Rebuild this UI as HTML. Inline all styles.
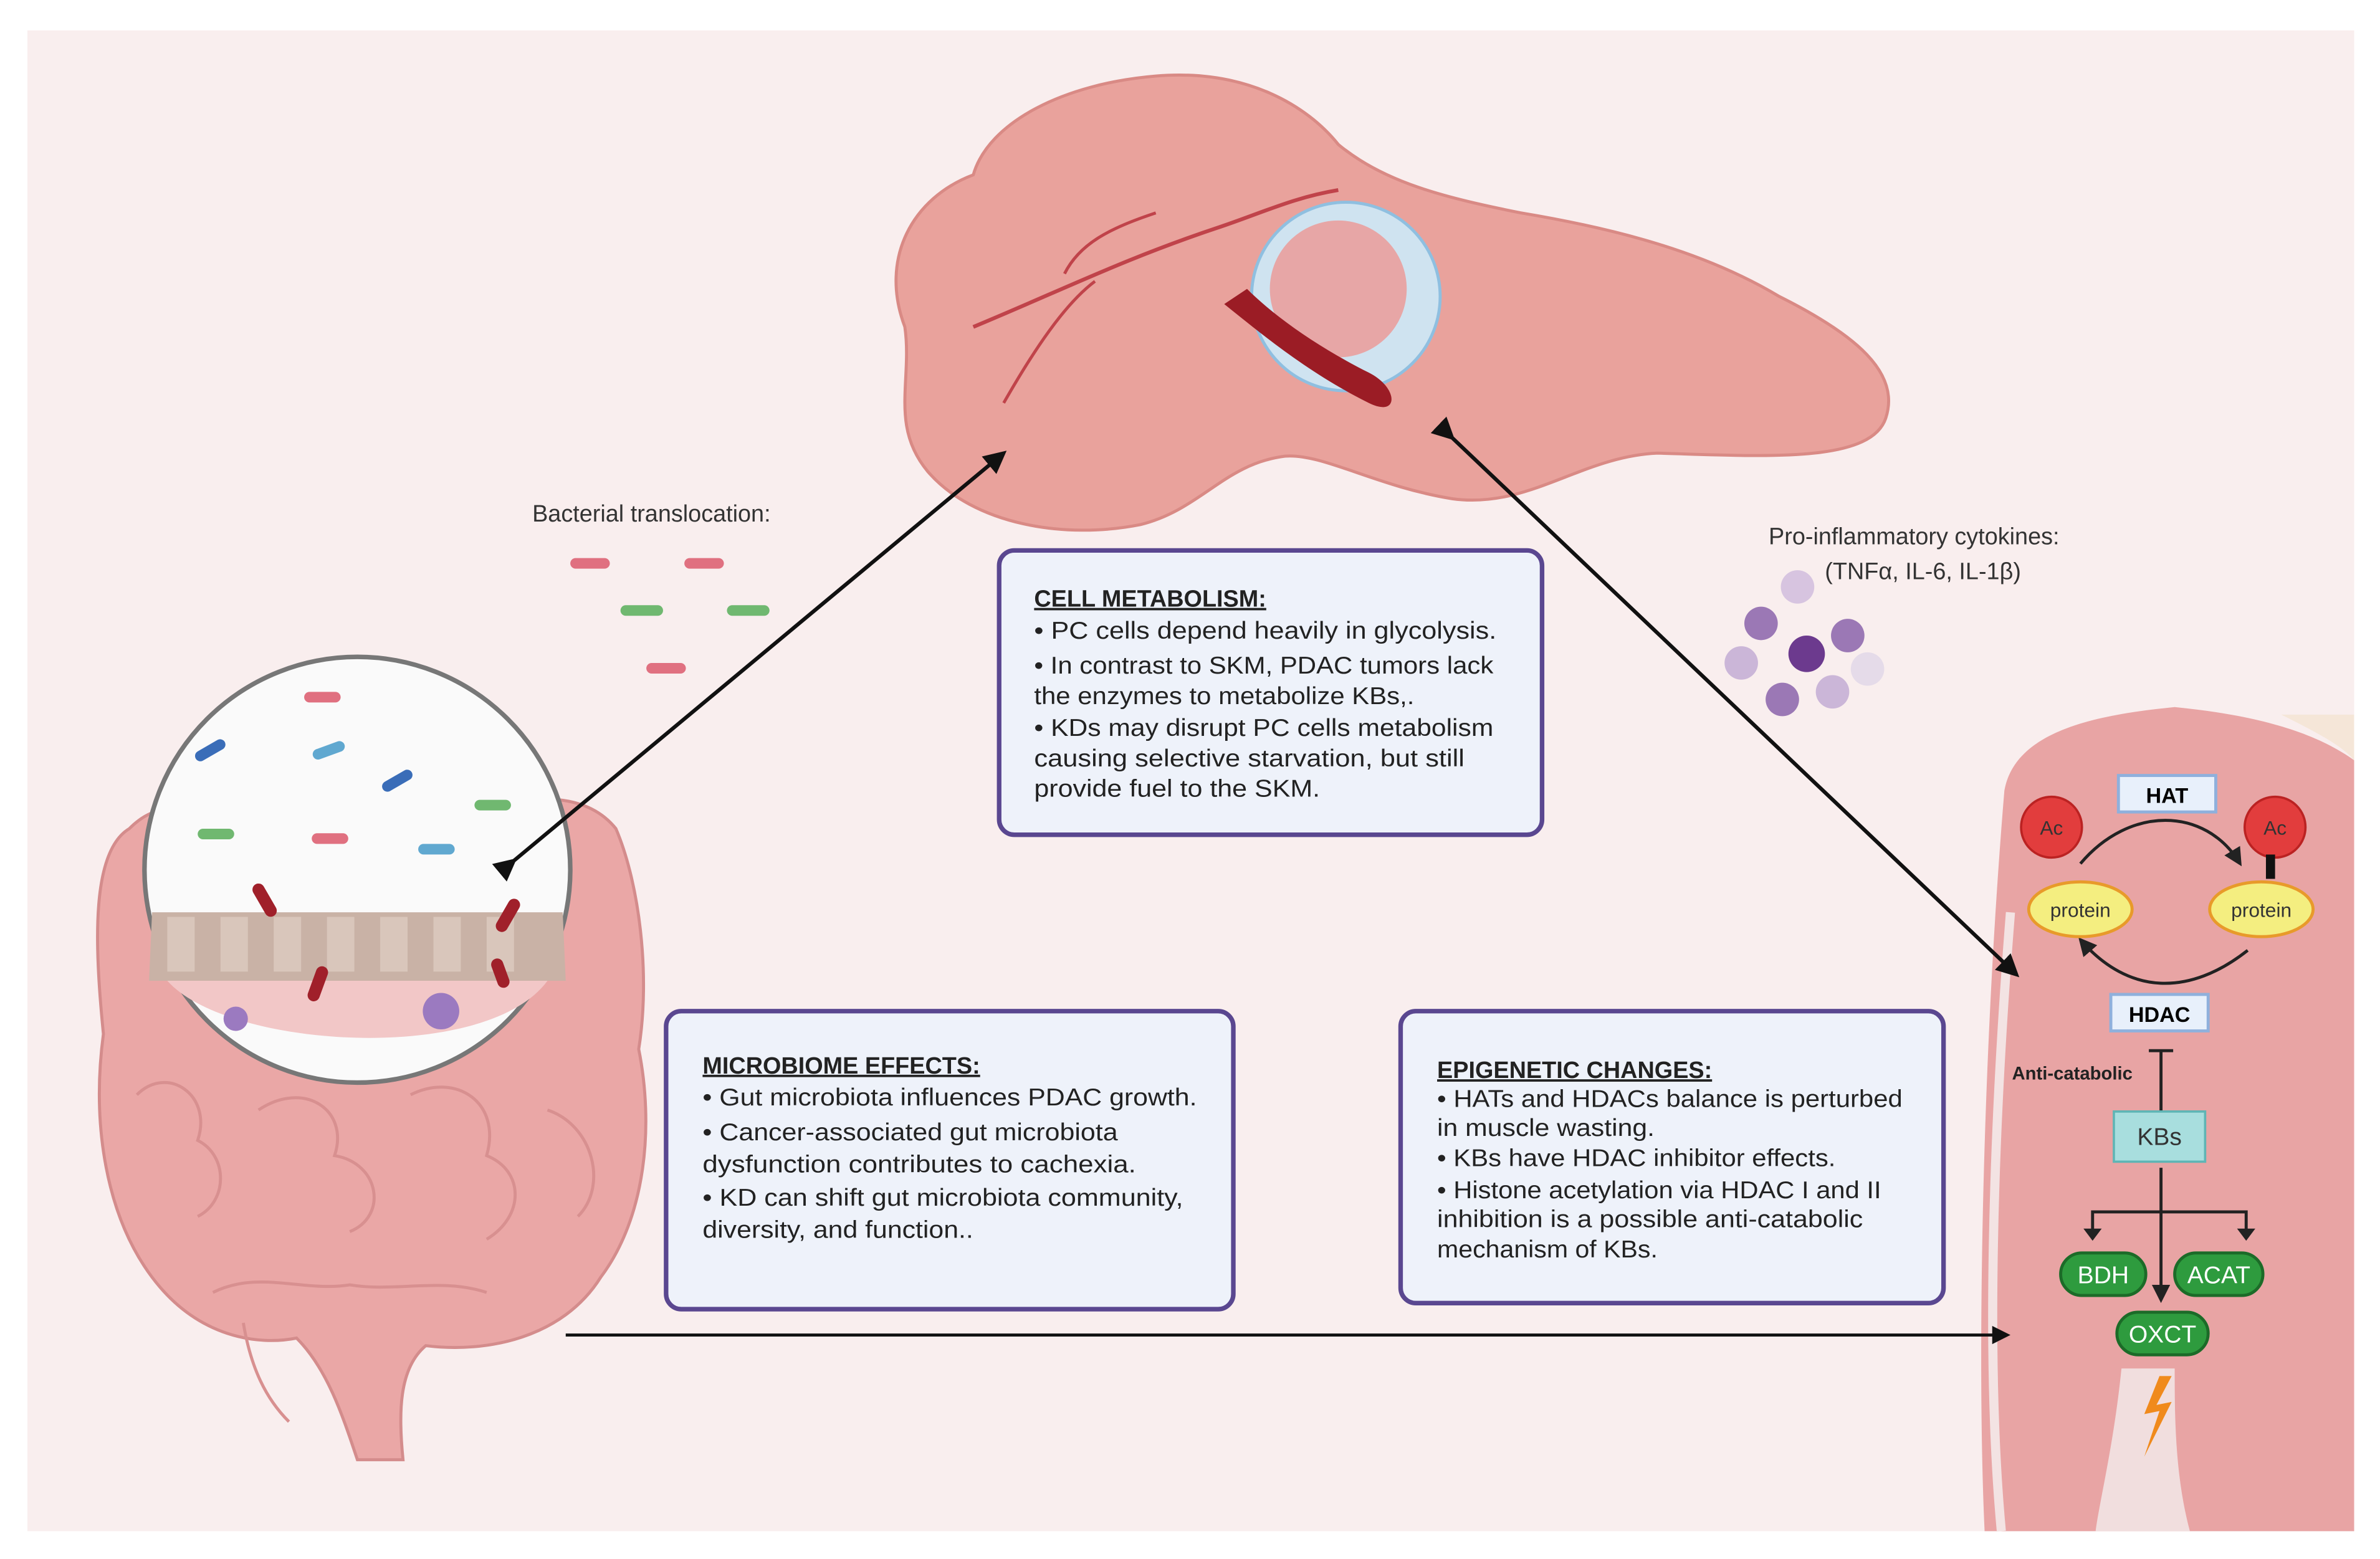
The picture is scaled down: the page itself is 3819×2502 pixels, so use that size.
<!DOCTYPE html>
<html><head><meta charset="utf-8"><style>
html,body{margin:0;padding:0;background:#fff;}
svg{display:block;}
text{font-family:"Liberation Sans",sans-serif;}
</style></head><body>
<svg width="3819" height="2502" viewBox="0 0 1565 1025.3" xmlns="http://www.w3.org/2000/svg">
<defs>
<marker id="ah" markerWidth="6" markerHeight="6" refX="5" refY="3" orient="auto" markerUnits="strokeWidth"><path d="M0,0 L6,3 L0,6 z" fill="#111"/></marker>
<marker id="ah2" markerWidth="6" markerHeight="6" refX="5" refY="3" orient="auto" markerUnits="strokeWidth"><path d="M0,0 L6,3 L0,6 z" fill="#222"/></marker>
</defs>
<rect x="18" y="20" width="1530" height="987" fill="#f9eeee"/>

<!-- pancreas -->
<path d="M595,215 C578,170 600,130 640,115 C650,80 700,55 760,50 C820,45 860,70 880,95 C910,120 950,130 1000,140 C1060,150 1120,165 1170,195 C1220,220 1250,245 1240,275 C1230,305 1160,300 1090,298 C1040,300 1005,335 955,328 C905,320 870,298 845,300 C805,305 790,335 750,345 C700,355 640,345 610,310 C585,280 600,250 595,215 Z" fill="#e9a29c" stroke="#d98a85" stroke-width="2"/>
<path d="M640,215 C700,190 740,170 800,150 C830,140 850,130 880,125" stroke="#c0434a" stroke-width="2.5" fill="none"/>
<path d="M660,265 C680,230 700,200 720,185 M700,180 C710,160 730,150 760,140" stroke="#c0434a" stroke-width="2" fill="none"/>
<circle cx="885" cy="195" r="62" fill="#cfe3f0" stroke="#8fbfe0" stroke-width="2"/>
<circle cx="880" cy="190" r="45" fill="#e7a6a6"/>
<path d="M805,200 C830,220 860,245 900,265 C920,275 920,255 900,245 C870,230 840,210 820,190 Z" fill="#9b1c25"/>

<!-- bacteria label -->
<text x="350" y="343" font-size="15.5" fill="#333">Bacterial translocation:</text>
<rect x="375" y="367" width="26" height="7" rx="3.5" fill="#e07080"/>
<rect x="450" y="367" width="26" height="7" rx="3.5" fill="#e07080"/>
<rect x="408" y="398" width="28" height="7" rx="3.5" fill="#70b870"/>
<rect x="478" y="398" width="28" height="7" rx="3.5" fill="#70b870"/>
<rect x="425" y="436" width="26" height="7" rx="3.5" fill="#e07080"/>

<!-- intestines -->
<path d="M85,545 C60,560 62,620 68,680 C60,740 70,800 100,840 C130,880 170,885 195,880 C215,900 225,930 235,960 L265,960 C262,930 262,900 280,885 C320,890 370,880 395,840 C425,800 430,740 420,690 C428,640 420,580 405,545 C385,520 350,525 330,528 L120,530 C100,532 92,538 85,545 Z" fill="#eaa7a6" stroke="#d48c8c" stroke-width="2"/>
<g fill="none" stroke="#d89090" stroke-width="2">
<path d="M90,720 C110,700 140,720 130,750 C150,760 150,790 130,800"/>
<path d="M170,730 C200,710 230,730 220,760 C250,765 255,800 230,810"/>
<path d="M270,720 C300,705 330,725 320,760 C345,770 345,800 320,815"/>
<path d="M360,730 C390,740 400,780 380,800"/>
<path d="M140,850 C170,835 200,850 230,845 C260,850 290,840 320,850"/>
<path d="M160,870 C165,900 175,920 190,935"/>
</g>
<circle cx="235" cy="572" r="140" fill="#fafafa" stroke="#777" stroke-width="3"/>
<path d="M100,600 L370,600 L372,645 L98,645 Z" fill="#c9b2a6"/>
<g fill="#d9c6bb"><rect x="110" y="603" width="18" height="36"/><rect x="145" y="603" width="18" height="36"/><rect x="180" y="603" width="18" height="36"/><rect x="215" y="603" width="18" height="36"/><rect x="250" y="603" width="18" height="36"/><rect x="285" y="603" width="18" height="36"/><rect x="320" y="603" width="18" height="36"/></g>
<path d="M110,645 C150,690 320,700 360,645 Z" fill="#f2c7c7"/>
<rect x="127" y="490" width="22" height="7" rx="3.5" fill="#3a6db8" transform="rotate(-30 138 493)"/>
<rect x="250" y="510" width="22" height="7" rx="3.5" fill="#3a6db8" transform="rotate(-30 261 513)"/>
<rect x="205" y="490" width="22" height="7" rx="3.5" fill="#60a8d0" transform="rotate(-20 216 493)"/>
<rect x="275" y="555" width="24" height="7" rx="3.5" fill="#60a8d0"/>
<rect x="130" y="545" width="24" height="7" rx="3.5" fill="#70b870"/>
<rect x="312" y="526" width="24" height="7" rx="3.5" fill="#70b870"/>
<rect x="200" y="455" width="24" height="7" rx="3.5" fill="#e07080"/>
<rect x="205" y="548" width="24" height="7" rx="3.5" fill="#e07080"/>
<g fill="#a0202a"><rect x="170" y="580" width="8" height="24" rx="4" transform="rotate(-30 174 592)"/><rect x="205" y="635" width="8" height="24" rx="4" transform="rotate(20 209 647)"/><rect x="330" y="590" width="8" height="24" rx="4" transform="rotate(30 334 602)"/><rect x="325" y="630" width="8" height="20" rx="4" transform="rotate(-20 329 640)"/></g>
<circle cx="290" cy="665" r="12" fill="#9b7ac0"/>
<circle cx="155" cy="670" r="8" fill="#9b7ac0"/>

<!-- cytokines -->
<text x="1163" y="358" font-size="15.5" fill="#333">Pro-inflammatory cytokines:</text>
<text x="1200" y="381" font-size="15.5" fill="#333">(TNFα, IL-6, IL-1β)</text>
<circle cx="1182" cy="386" r="11" fill="#d7c4e0"/>
<circle cx="1158" cy="410" r="11" fill="#9b78b5"/>
<circle cx="1215" cy="418" r="11" fill="#9b78b5"/>
<circle cx="1188" cy="430" r="12" fill="#6c3a8e"/>
<circle cx="1145" cy="436" r="11" fill="#cbb6d8"/>
<circle cx="1228" cy="440" r="11" fill="#e5dbe9"/>
<circle cx="1172" cy="460" r="11" fill="#9b78b5"/>
<circle cx="1205" cy="455" r="11" fill="#cbb6d8"/>

<!-- muscle -->
<path d="M1318,520 C1325,480 1380,470 1430,465 C1480,470 1520,480 1548,500 L1548,1007 L1305,1007 C1300,900 1303,700 1318,520 Z" fill="#e8a4a4"/>
<path d="M1500,470 C1520,480 1540,490 1548,500 L1548,470 Z" fill="#f5e6d8"/>
<path d="M1322,600 C1310,750 1306,900 1316,1007" stroke="#f3e3e3" stroke-width="6" fill="none"/>
<path d="M1395,900 C1390,950 1380,990 1378,1007 L1440,1007 C1430,970 1430,930 1430,900 Z" fill="#f1dede"/>

<!-- arrows -->
<line x1="372" y1="878" x2="1320" y2="878" stroke="#111" stroke-width="2" marker-end="url(#ah)"/>
<line x1="338" y1="566" x2="660" y2="298" stroke="#111" stroke-width="2.5" marker-end="url(#ah)" marker-start="url(#ah)"/>
<line x1="955" y1="288" x2="1326" y2="641" stroke="#111" stroke-width="2.5" marker-end="url(#ah)" marker-start="url(#ah)"/>

<!-- boxes -->
<g font-size="16" fill="#222">
<rect x="657" y="362" width="357" height="187" rx="10" fill="#eef2fa" stroke="#5a4790" stroke-width="3"/>
<text x="680" y="399" font-weight="bold" text-decoration="underline" font-size="15.5">CELL METABOLISM:</text>
<text x="680" y="420" textLength="304" lengthAdjust="spacingAndGlyphs">• PC cells  depend heavily in glycolysis.</text>
<text x="680" y="443" textLength="302" lengthAdjust="spacingAndGlyphs">• In contrast to SKM, PDAC tumors lack</text>
<text x="680" y="463" textLength="250" lengthAdjust="spacingAndGlyphs">the enzymes to metabolize KBs,.</text>
<text x="680" y="484" textLength="302" lengthAdjust="spacingAndGlyphs">• KDs may disrupt PC cells metabolism</text>
<text x="680" y="504" textLength="283" lengthAdjust="spacingAndGlyphs">causing selective starvation,  but still</text>
<text x="680" y="524" textLength="188" lengthAdjust="spacingAndGlyphs">provide fuel to the  SKM.</text>

<rect x="438" y="665" width="373" height="196" rx="10" fill="#eef2fa" stroke="#5a4790" stroke-width="3"/>
<text x="462" y="706" font-weight="bold" text-decoration="underline" font-size="15.5">MICROBIOME EFFECTS:</text>
<text x="462" y="727" textLength="325" lengthAdjust="spacingAndGlyphs">• Gut microbiota  influences PDAC growth.</text>
<text x="462" y="750" textLength="273" lengthAdjust="spacingAndGlyphs">• Cancer-associated gut microbiota</text>
<text x="462" y="771" textLength="285" lengthAdjust="spacingAndGlyphs">dysfunction contributes to  cachexia.</text>
<text x="462" y="793" textLength="316" lengthAdjust="spacingAndGlyphs">• KD can shift gut microbiota community,</text>
<text x="462" y="814" textLength="178" lengthAdjust="spacingAndGlyphs">diversity, and function..</text>

<rect x="921" y="665" width="357" height="192" rx="10" fill="#eef2fa" stroke="#5a4790" stroke-width="3"/>
<text x="945" y="709" font-weight="bold" text-decoration="underline" font-size="15.5">EPIGENETIC CHANGES:</text>
<text x="945" y="728" textLength="306" lengthAdjust="spacingAndGlyphs">• HATs and HDACs balance is perturbed</text>
<text x="945" y="747" textLength="143" lengthAdjust="spacingAndGlyphs">in muscle wasting.</text>
<text x="945" y="767" textLength="262" lengthAdjust="spacingAndGlyphs">• KBs have HDAC inhibitor effects.</text>
<text x="945" y="788" textLength="292" lengthAdjust="spacingAndGlyphs">• Histone acetylation via HDAC I and II</text>
<text x="945" y="807" textLength="280" lengthAdjust="spacingAndGlyphs">inhibition is a possible anti-catabolic</text>
<text x="945" y="827" textLength="145" lengthAdjust="spacingAndGlyphs">mechanism of KBs.</text>
</g>

<!-- muscle diagram -->
<g>
<rect x="1393" y="510" width="64" height="24" fill="#e8f0fb" stroke="#8fb0dc" stroke-width="2"/>
<text x="1425" y="528" font-size="14" font-weight="bold" text-anchor="middle">HAT</text>
<path d="M1368,568 C1400,530 1450,530 1473,568" stroke="#222" stroke-width="2" fill="none" marker-end="url(#ah2)"/>
<path d="M1478,625 C1440,655 1400,655 1368,618" stroke="#222" stroke-width="2" fill="none" marker-end="url(#ah2)"/>
<circle cx="1349" cy="544" r="20" fill="#e23d3d" stroke="#b22" stroke-width="1.5"/>
<text x="1349" y="549" font-size="13" text-anchor="middle" fill="#333">Ac</text>
<circle cx="1496" cy="544" r="20" fill="#e23d3d" stroke="#b22" stroke-width="1.5"/>
<text x="1496" y="549" font-size="13" text-anchor="middle" fill="#333">Ac</text>
<rect x="1490" y="562" width="6" height="16" fill="#111"/>
<ellipse cx="1368" cy="598" rx="34" ry="18" fill="#f4ee80" stroke="#e89a2a" stroke-width="2"/>
<text x="1368" y="603" font-size="13" text-anchor="middle" fill="#333">protein</text>
<ellipse cx="1487" cy="598" rx="34" ry="18" fill="#f4ee80" stroke="#e89a2a" stroke-width="2"/>
<text x="1487" y="603" font-size="13" text-anchor="middle" fill="#333">protein</text>
<rect x="1388" y="654" width="64" height="24" fill="#e8f0fb" stroke="#8fb0dc" stroke-width="2"/>
<text x="1420" y="672" font-size="14" font-weight="bold" text-anchor="middle">HDAC</text>
<text x="1323" y="710" font-size="12" font-weight="bold" fill="#222">Anti-catabolic</text>
<line x1="1421" y1="691" x2="1421" y2="731" stroke="#222" stroke-width="2"/>
<line x1="1413" y1="691" x2="1429" y2="691" stroke="#222" stroke-width="2"/>
<rect x="1390" y="731" width="60" height="33" fill="#a8dede" stroke="#5fb5b5" stroke-width="1.5"/>
<text x="1420" y="753" font-size="16" text-anchor="middle" fill="#333">KBs</text>
<line x1="1421" y1="768" x2="1421" y2="855" stroke="#222" stroke-width="2" marker-end="url(#ah2)"/>
<polyline points="1376,812 1376,797 1477,797 1477,812" stroke="#222" stroke-width="2" fill="none"/>
<path d="M1370,808 L1382,808 L1376,816 Z M1471,808 L1483,808 L1477,816 Z" fill="#222"/>
<rect x="1355" y="824" width="56" height="28" rx="14" fill="#2e9b3e" stroke="#1c6b28" stroke-width="2"/>
<text x="1383" y="844" font-size="16" text-anchor="middle" fill="#fff">BDH</text>
<rect x="1430" y="824" width="58" height="28" rx="14" fill="#2e9b3e" stroke="#1c6b28" stroke-width="2"/>
<text x="1459" y="844" font-size="16" text-anchor="middle" fill="#fff">ACAT</text>
<rect x="1392" y="863" width="60" height="28" rx="14" fill="#2e9b3e" stroke="#1c6b28" stroke-width="2"/>
<text x="1422" y="883" font-size="16" text-anchor="middle" fill="#fff">OXCT</text>
<path d="M1420,905 L1410,930 L1420,928 L1410,958 L1428,922 L1418,924 L1428,905 Z" fill="#f08a1c"/>
</g>
</svg>
</body></html>
